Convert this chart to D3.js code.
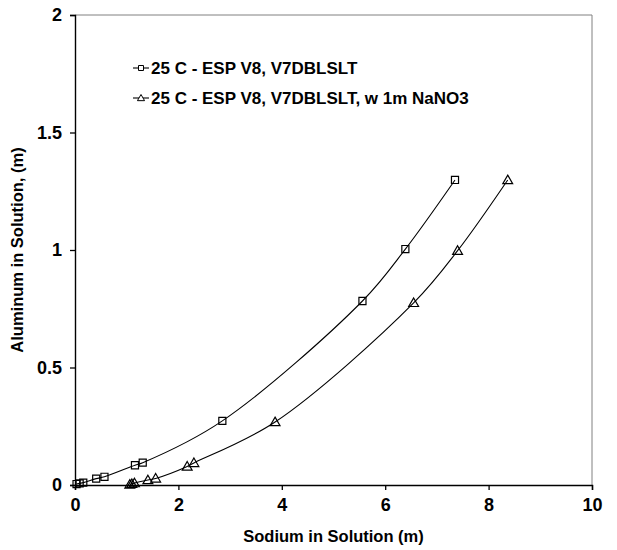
<!DOCTYPE html>
<html>
<head>
<meta charset="utf-8">
<script src="https://cdn.jsdelivr.net/npm/d3@7"></script>
<style>
  html, body { margin: 0; padding: 0; background: #fff; }
  svg { display: block; }
  text { font-family: "Liberation Sans", Arial, sans-serif; font-weight: bold; fill: #000; }
</style>
</head>
<body>
<svg id="chart" width="617" height="550"></svg>
<script>
// Sodium (x) vs. aluminum (y) molality, 25 C runs
const seriesNames = ["25 C - ESP V8, V7DBLSLT", "25 C - ESP V8, V7DBLSLT, w 1m NaNO3"];
const sodiumBase = [0.03, 0.09, 0.16, 0.41, 0.57, 1.16, 1.31, 2.85, 5.56, 6.39, 7.35];
const aluminumBase = [0.004, 0.007, 0.010, 0.027, 0.035, 0.084, 0.095, 0.273, 0.783, 1.004, 1.298];
const sodiumNitrate = [1.06, 1.10, 1.15, 1.41, 1.56, 2.17, 2.30, 3.87, 6.55, 7.40, 8.37];
const aluminumNitrate = [0.002, 0.005, 0.008, 0.021, 0.028, 0.079, 0.094, 0.268, 0.775, 0.997, 1.298];
const xTicks = [0, 2, 4, 6, 8, 10];
const yTicks = [0, 0.5, 1, 1.5, 2];
const yTickLabels = ["0", "0.5", "1", "1.5", "2"];

const svg = d3.select("#chart");
const plotLeft = 75, plotRight = 592, plotTop = 15, plotBottom = 485;

const x = d3.scaleLinear().domain([0, 10]).range([plotLeft, plotRight]);
const y = d3.scaleLinear().domain([0, 2]).range([plotBottom, plotTop]);

// plot frame: grey top/right edges
svg.append("path")
  .attr("d", `M${plotLeft},${plotTop}H${plotRight}V${plotBottom}`)
  .attr("fill", "none").attr("stroke", "#808080").attr("stroke-width", 1);

// axes
const xAxis = svg.append("g").attr("transform", `translate(0,${plotBottom})`)
  .call(d3.axisBottom(x).tickValues(xTicks).tickSize(5).tickPadding(8).tickFormat(d3.format("d")));
const yAxis = svg.append("g").attr("transform", `translate(${plotLeft},0)`)
  .call(d3.axisLeft(y).tickValues(yTicks).tickSize(5).tickPadding(8).tickFormat((d, i) => yTickLabels[i]));
[xAxis, yAxis].forEach(g => {
  g.select(".domain").attr("stroke", "#000").attr("stroke-width", 1.4);
  g.selectAll(".tick line").attr("stroke", "#000").attr("stroke-width", 1.3);
  g.selectAll(".tick text").style("font-size", "18px").style("font-family", "'Liberation Sans', Arial, sans-serif").style("font-weight", "bold").attr("fill", "#000");
});

// axis titles
svg.append("text").attr("x", (plotLeft + plotRight) / 2).attr("y", 542)
  .attr("text-anchor", "middle").style("font-size", "16.5px").text("Sodium in Solution (m)");
svg.append("text").attr("transform", `translate(23,${(plotTop + plotBottom) / 2}) rotate(-90)`)
  .attr("text-anchor", "middle").style("font-size", "16.5px").text("Aluminum in Solution, (m)");

const line = d3.line().x(d => x(d[0])).y(d => y(d[1])).curve(d3.curveCatmullRom.alpha(0.5));

const series = [
  { name: seriesNames[0], pts: d3.zip(sodiumBase, aluminumBase), marker: "square" },
  { name: seriesNames[1], pts: d3.zip(sodiumNitrate, aluminumNitrate), marker: "triangle" }
];

const sq = d3.symbol().type(d3.symbolSquare).size(50);
const tri = d3.symbol().type(d3.symbolTriangle).size(42);

series.forEach(s => {
  svg.append("path").datum(s.pts).attr("d", line)
    .attr("fill", "none").attr("stroke", "#000").attr("stroke-width", 1.1);
  svg.selectAll(null).data(s.pts).enter().append("path")
    .attr("d", s.marker === "square" ? sq : tri)
    .attr("transform", d => `translate(${x(d[0])},${y(d[1]) + (s.marker === "triangle" ? 0.8 : 0)})`)
    .attr("fill", "none").attr("stroke", "#000").attr("stroke-width", 1.2);
});

// legend
const legend = svg.append("g");
series.forEach((s, i) => {
  const ly = 68 + i * 30;
  const g = legend.append("g").attr("transform", `translate(133,${ly})`);
  g.append("line").attr("x1", 0).attr("x2", 16).attr("y1", 0).attr("y2", 0)
    .attr("stroke", "#000").attr("stroke-width", 1.1);
  g.append("path").attr("d", (s.marker === "square" ? d3.symbol().type(d3.symbolSquare).size(25) : d3.symbol().type(d3.symbolTriangle).size(22))())
    .attr("transform", `translate(8,${s.marker === "triangle" ? 0.6 : 0})`)
    .attr("fill", "#fff").attr("stroke", "#000").attr("stroke-width", 1);
  g.append("text").attr("x", 18).attr("y", 6).style("font-size", "17px").text(s.name);
});
</script>
</body>
</html>
